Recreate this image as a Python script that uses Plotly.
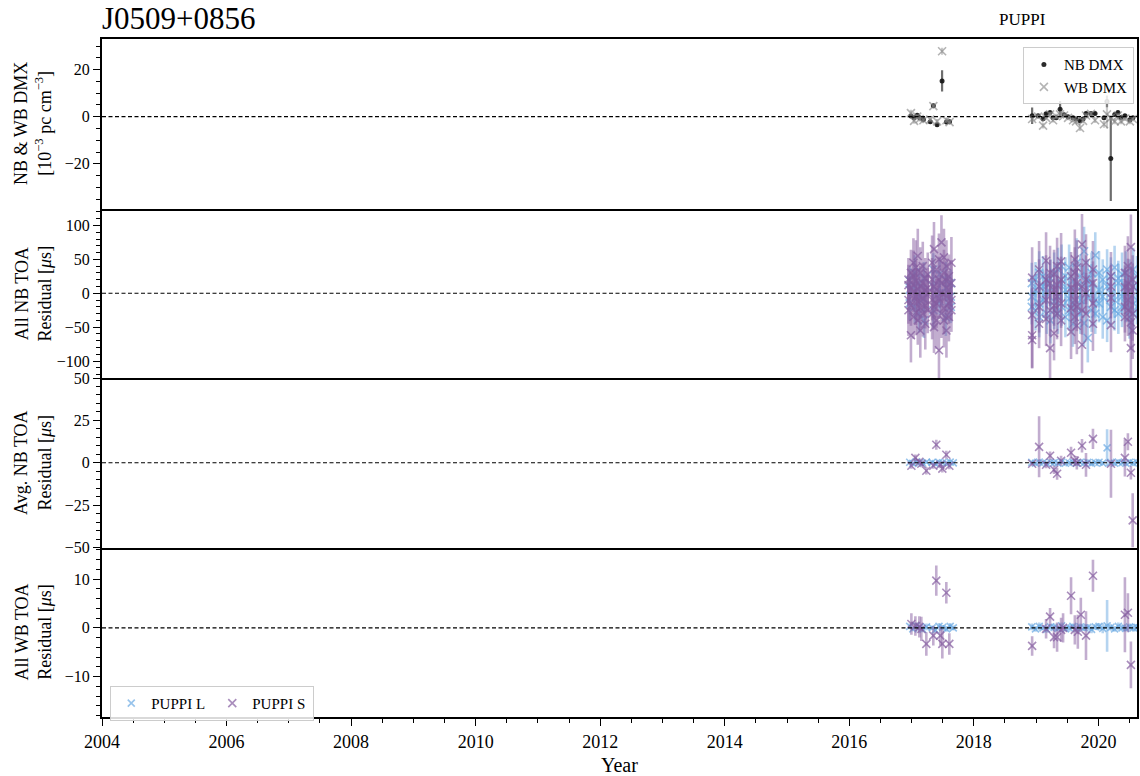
import plotly.graph_objects as go
from plotly.subplots import make_subplots

# ---------------- DMX (10^-3 pc cm^-3) ----------------
dmx_epoch = [2016.99, 2017.04, 2017.09, 2017.13, 2017.19, 2017.30, 2017.35, 2017.41, 2017.49, 2017.56, 2017.61,
             2018.936, 2019.032, 2019.112, 2019.160, 2019.224, 2019.272, 2019.321, 2019.385, 2019.449, 2019.513,
             2019.593, 2019.641, 2019.705, 2019.753, 2019.801, 2019.881, 2019.946, 2020.090, 2020.138, 2020.199,
             2020.263, 2020.314, 2020.362, 2020.426, 2020.506, 2020.554]
nb_dmx = [0.3, -0.5, 0.6, -0.4, -1.2, -2.2, 4.6, -3.4, 15.2, -2.3, -2.2,
          0.4, 0.4, -0.9, 1.2, 1.8, -0.4, -0.4, 3.2, 0.8, 0.0,
          -0.5, -1.0, -1.7, -1.0, 1.4, 1.4, 1.4, -0.5, 6.5, -17.8,
          0.9, 1.8, -0.3, 0.4, -1.3, -0.5]
nb_dmx_err = [0.8, 0.8, 0.7, 0.8, 0.8, 0.8, 0.9, 0.9, 4.5, 0.9, 0.9,
              3.5, 0.6, 0.6, 0.7, 0.7, 0.6, 0.6, 3.5, 0.7, 0.6,
              0.6, 0.7, 0.8, 0.7, 0.7, 0.6, 0.7, 0.8, 2.5, 18.0,
              0.8, 0.7, 0.6, 0.7, 0.8, 0.7]
wb_dmx = [1.5, -1.8, 0.0, -1.0, -1.5, -1.2, 4.5, -2.0, 27.8, -1.5, -2.3,
          -1.0, 0.0, -3.8, -0.5, 1.0, -1.5, 0.2, 1.0, 0.5, -0.5,
          -1.5, -2.0, -4.8, -1.8, 0.5, 1.2, -1.5, -3.2, 1.0, -0.5,
          -2.0, 0.5, -2.0, -0.8, -2.0, -1.0]
wb_dmx_err = [1.5, 1.2, 1.0, 1.0, 1.0, 1.0, 1.0, 1.0, 1.5, 1.2, 1.0,
              1.5, 1.0, 1.2, 1.0, 1.0, 1.0, 1.0, 1.2, 1.0, 1.0,
              1.0, 1.2, 1.3, 1.0, 1.0, 1.0, 1.2, 1.5, 6.0, 1.2,
              1.2, 1.0, 1.2, 1.0, 1.2, 1.0]

# ---------------- All NB TOA residuals (us) ----------------
nb_l_epoch = [2016.97, 2017.05, 2017.12, 2017.20, 2017.35, 2017.45, 2017.55, 2017.63,
              2018.93, 2018.99, 2019.05, 2019.11, 2019.17, 2019.23, 2019.29, 2019.35, 2019.41, 2019.47,
              2019.53, 2019.59, 2019.65, 2019.71, 2019.77, 2019.83, 2019.89, 2019.95, 2020.01, 2020.07,
              2020.14, 2020.20, 2020.26, 2020.32, 2020.38, 2020.44, 2020.50, 2020.56, 2020.62]
nb_l_res = [[5, -15, 18], [-20, 10, 30], [15, -30, -5], [-8, 22, -40], [10, -25, 35], [-12, 28, 0],
            [20, -35, 8], [-5, 15, -20],
            [-5, 15, -20], [20, -25, 5], [-15, 30, -35], [10, -10, 25], [-30, 18, 0], [22, -40, 8],
            [-12, 30, -25], [35, -5, -30], [-20, 15, 40], [5, -35, 25], [-25, 38, -8], [18, -15, -45],
            [45, -20, 10], [-30, 25, -10], [12, -44, 62], [-66, 20, -5], [30, -25, 15], [56, -10, -30],
            [-15, 30, 5], [20, -35, -5], [-40, 10, 35], [25, -20, 0], [-10, 38, -25], [15, -30, 22],
            [-20, 28, -5], [30, -15, 10], [-25, 20, -35], [10, -30, 35], [-10, 25, -20]]
nb_l_err = [[20, 25, 22], [24, 20, 26], [22, 28, 20], [20, 24, 26], [22, 26, 24], [20, 24, 22],
            [26, 28, 20], [22, 20, 24],
            [28, 30, 26], [26, 30, 24], [28, 32, 30], [24, 26, 30], [30, 28, 24], [28, 34, 26],
            [26, 30, 28], [32, 26, 30], [28, 26, 32], [24, 30, 28], [30, 34, 26], [28, 26, 34],
            [36, 30, 26], [30, 32, 24], [28, 34, 36], [36, 30, 26], [30, 32, 28], [34, 26, 30],
            [28, 32, 26], [30, 32, 26], [32, 26, 30], [28, 30, 24], [26, 32, 30], [28, 30, 26],
            [30, 32, 26], [32, 28, 24], [28, 30, 32], [26, 30, 32], [28, 30, 26]]

nb_s_epoch = [2016.95, 2016.99, 2017.03, 2017.07, 2017.10, 2017.14, 2017.18, 2017.22, 2017.26,
              2017.33, 2017.36, 2017.40, 2017.44, 2017.48, 2017.52, 2017.56, 2017.60, 2017.64,
              2018.936, 2019.048, 2019.160, 2019.224, 2019.288, 2019.337, 2019.401, 2019.561, 2019.622,
              2019.654, 2019.737, 2019.801, 2019.913, 2020.202, 2020.426, 2020.474, 2020.522, 2020.551]
nb_s_res = [[-10, 12, -25, 20], [-62, 8, 30, -18], [25, -35, 2, 45], [-5, 18, -28, 38],
            [55, -12, 6, -40], [-22, 30, 10, -55], [15, -8, 40, -30], [-18, 22, 5, -45],
            [8, -25, 28, 0], [-30, 20, 45, -10], [65, -20, 10, -50], [-15, 35, -40, 5],
            [-84, 20, 50, -8], [15, -30, 75, 0], [53, -22, 30, -40], [-5, 40, -55, 18],
            [25, -15, 5, -35], [-10, 15, 45, -25],
            [23, -32, -62, -69], [10, -20, 35, -45], [48, -10, 20, -38], [-81, 15, -25, 30],
            [-59, 5, 28, -18], [12, -30, 40, -5], [47, -15, -40, 20], [-57, 25, 8, -22],
            [30, -35, 50, -10], [-20, 15, 38, -48], [72, -76, 10, -25], [-30, 20, 45, 0],
            [35, -15, -45, 15], [-47, 10, -7, 25], [-20, 30, 9, -35], [15, -10, 40, -25],
            [68, -81, -43, 5], [-30, 20, -55, 10]]
nb_s_err = [[35, 30, 38, 32], [40, 28, 34, 30], [38, 32, 30, 36], [42, 30, 34, 40],
            [40, 30, 28, 36], [34, 38, 30, 40], [30, 28, 36, 34], [34, 30, 28, 38],
            [30, 34, 32, 28], [38, 32, 40, 30], [40, 34, 30, 38], [36, 30, 42, 28],
            [45, 34, 38, 30], [32, 36, 40, 30], [42, 38, 34, 40], [34, 38, 40, 30],
            [32, 30, 28, 36], [30, 34, 38, 32],
            [45, 40, 48, 42], [40, 38, 42, 36], [42, 30, 36, 40], [45, 34, 38, 40],
            [40, 32, 36, 30], [34, 38, 42, 30], [42, 36, 38, 34], [40, 36, 30, 34],
            [38, 40, 44, 32], [36, 30, 40, 42], [45, 42, 34, 36], [40, 36, 42, 30],
            [42, 34, 40, 32], [40, 32, 30, 36], [38, 40, 32, 36], [36, 32, 44, 38],
            [48, 45, 40, 34], [40, 36, 42, 34]]

# ---------------- Epoch-averaged NB residuals (us) ----------------
avg_l_epoch = [2016.97, 2017.02, 2017.08, 2017.13, 2017.18, 2017.24, 2017.33, 2017.38, 2017.44,
               2017.50, 2017.56, 2017.62, 2017.67,
               2018.93, 2018.99, 2019.05, 2019.11, 2019.17, 2019.23, 2019.29, 2019.35, 2019.41,
               2019.47, 2019.53, 2019.59, 2019.65, 2019.71, 2019.77, 2019.83, 2019.89, 2019.95,
               2020.01, 2020.07, 2020.14, 2020.20, 2020.26, 2020.32, 2020.38, 2020.44, 2020.50,
               2020.56, 2020.62]
avg_l_res = [0.3, -0.4, 0.5, 0.0, -0.3, 0.4, 0.2, -0.5, 0.3, 0.0, -0.2, 0.4, -0.1,
             0.2, -0.3, 0.4, 0.0, -0.4, 0.3, 0.1, -0.2, 0.5, -0.3, 0.0, 0.4, -0.2, 0.3,
             -0.1, 0.2, -0.4, 0.1, 0.3, -0.2, 8.8, 0.2, -0.3, 0.4, 0.0, -0.2, 0.3, -0.1, 0.2]
avg_l_err = [0.9, 0.8, 1.0, 0.8, 0.9, 1.0, 0.8, 0.9, 1.0, 0.8, 0.9, 1.0, 0.8,
             1.0, 0.9, 1.1, 0.8, 1.0, 0.9, 1.2, 0.9, 1.0, 0.8, 1.1, 0.9, 1.2, 1.0,
             0.9, 1.0, 1.1, 0.9, 1.0, 1.2, 11.0, 1.0, 0.9, 1.1, 1.0, 0.9, 1.0, 1.1, 1.0]
avg_s_epoch = [2016.997, 2017.061, 2017.125, 2017.157, 2017.237, 2017.349, 2017.397, 2017.462,
               2017.494, 2017.558, 2017.606,
               2018.936, 2019.048, 2019.160, 2019.224, 2019.288, 2019.337, 2019.401, 2019.561,
               2019.622, 2019.654, 2019.737, 2019.801, 2019.913, 2020.202, 2020.426, 2020.474,
               2020.522, 2020.551]
avg_s_res = [-1.8, 2.9, 0.6, -0.6, -4.7, -1.8, 10.6, -1.2, -3.5, 4.7, -1.8,
             -0.6, 9.4, -1.2, 4.1, -4.1, -6.5, 1.2, 5.9, 1.2, 0.0, 10.0, -1.2, 14.1,
             -0.6, 2.9, 12.4, -5.9, -34.0]
avg_s_err = [1.8, 2.0, 1.8, 2.0, 2.2, 1.8, 3.0, 2.0, 2.2, 2.4, 2.0,
             1.2, 18.0, 2.0, 2.5, 2.5, 3.5, 3.0, 3.5, 3.0, 4.0, 4.0, 7.0, 6.0,
             20.0, 11.0, 5.0, 4.0, 16.0]

# ---------------- WB TOA residuals (us) ----------------
wb_l_epoch = avg_l_epoch
wb_l_res = [0.3, -0.2, 0.4, 0.1, -0.3, 0.2, 0.0, -0.4, 0.3, 0.1, -0.2, 0.3, 0.0,
            0.2, -0.2, 0.3, 0.0, -0.3, 0.2, 0.1, -0.1, 0.4, -0.2, 0.0, 0.3, -0.1, 0.2,
            0.0, 0.1, -0.3, 0.2, 0.3, -0.1, 0.4, 0.1, -0.2, 0.3, 0.0, -0.1, 0.2, 0.0, 0.1]
wb_l_err = [0.6, 0.5, 0.7, 0.5, 0.6, 0.7, 0.5, 0.6, 0.7, 0.5, 0.6, 0.7, 0.5,
            0.7, 0.6, 0.8, 0.5, 0.7, 0.6, 0.8, 0.6, 0.7, 0.5, 0.8, 0.6, 0.8, 0.7,
            0.6, 0.7, 0.8, 0.6, 0.7, 1.0, 5.3, 0.7, 0.6, 0.8, 0.7, 0.6, 0.7, 0.8, 0.7]
wb_s_epoch = [2016.997, 2017.061, 2017.125, 2017.157, 2017.237, 2017.349, 2017.397, 2017.462,
              2017.494, 2017.558, 2017.606,
              2018.936, 2019.160, 2019.224, 2019.288, 2019.337, 2019.401, 2019.433, 2019.561,
              2019.622, 2019.670, 2019.718, 2019.801, 2019.913, 2020.426, 2020.474, 2020.522]
wb_s_res = [0.8, 0.4, 0.2, -0.2, -3.3, -1.6, 9.7, -1.6, -3.3, 7.2, -3.3,
            -3.7, -0.2, 2.3, -1.9, -1.9, -0.4, 0.0, 6.6, -0.4, -0.8, 2.7, -1.6, 10.7,
            2.7, 3.1, -7.6]
wb_s_err = [2.2, 2.0, 2.2, 2.5, 2.4, 2.0, 3.1, 2.0, 3.0, 2.2, 2.2,
            2.0, 2.0, 1.8, 2.3, 3.0, 2.5, 3.0, 3.8, 3.0, 3.5, 3.5, 5.0, 3.3,
            7.7, 4.0, 4.8]


def expand(epochs, vals, errs):
    """Spread per-epoch lists of TOA residuals into flat x / y / err arrays."""
    xs, ys, es = [], [], []
    for t, v, e in zip(epochs, vals, errs):
        xs += [t] * len(v)
        ys += v
        es += e
    return xs, ys, es


BLUE = "107,169,226"
PURPLE = "133,92,160"
FONT = "Liberation Serif"

fig = make_subplots(rows=4, cols=1, shared_xaxes=True, vertical_spacing=0)

# --- DMX panel
fig.add_trace(go.Scatter(
    x=dmx_epoch, y=nb_dmx, mode="markers", name="NB DMX", legend="legend",
    marker=dict(symbol="circle", size=5, color="rgba(20,20,20,0.9)"),
    error_y=dict(type="data", array=nb_dmx_err, color="rgba(60,60,60,0.75)", thickness=2.2, width=0),
), row=1, col=1)
fig.add_trace(go.Scatter(
    x=dmx_epoch, y=wb_dmx, mode="markers", name="WB DMX", legend="legend",
    marker=dict(symbol="x-thin-open", size=8, color="rgba(130,130,130,0.6)",
                line=dict(width=1.6, color="rgba(130,130,130,0.6)")),
    error_y=dict(type="data", array=wb_dmx_err, color="rgba(150,150,150,0.5)", thickness=2.2, width=0),
), row=1, col=1)


def add_pair(row, l_data, s_data, show, l_size=8, s_size=8):
    for (xs, ys, es), name, rgb, size in ((l_data, "PUPPI L", BLUE, l_size),
                                          (s_data, "PUPPI S", PURPLE, s_size)):
        fig.add_trace(go.Scatter(
            x=xs, y=ys, mode="markers", name=name, legend="legend2", showlegend=show,
            marker=dict(symbol="x-thin-open", size=size, color=f"rgba({rgb},0.7)",
                        line=dict(width=1.6, color=f"rgba({rgb},0.7)")),
            error_y=dict(type="data", array=es, color=f"rgba({rgb},0.5)", thickness=2.6, width=0),
        ), row=row, col=1)


add_pair(2, expand(nb_l_epoch, nb_l_res, nb_l_err), expand(nb_s_epoch, nb_s_res, nb_s_err), False)
add_pair(3, (avg_l_epoch, avg_l_res, avg_l_err), (avg_s_epoch, avg_s_res, avg_s_err), False, l_size=7)
add_pair(4, (wb_l_epoch, wb_l_res, wb_l_err), (wb_s_epoch, wb_s_res, wb_s_err), True, l_size=7)

# zero reference lines
for r in range(1, 5):
    fig.add_hline(y=0, line=dict(color="black", width=1.2, dash="4px,2.5px"), row=r, col=1)

LINE_W = 2
common = dict(showgrid=False, zeroline=False, tickcolor="black", linecolor="black", linewidth=LINE_W,
              tickfont=dict(family=FONT, size=16, color="black"))

y_specs = [([-39, 33], 20, 5), ([-125, 125], 50, 10), ([-50, 50], 25, 5), ([-18.3, 16.5], 10, 2)]
for i, (rng, major, minor) in enumerate(y_specs, start=1):
    fig.update_yaxes(range=rng, dtick=major, tick0=0, ticks="outside", ticklen=7, tickwidth=1.2,
                     showline=True, mirror=True,
                     minor=dict(ticks="outside", dtick=minor, tick0=0, ticklen=4, tickwidth=1, tickcolor="black"),
                     row=i, col=1, **common)

# one horizontal rule per panel boundary: only the top panel mirrors its x line upward
for i in range(1, 5):
    bottom = i == 4
    fig.update_xaxes(range=[2004, 2020.62], dtick=2, tick0=2004, tickformat="d",
                     showline=True, mirror=(i == 1),
                     ticks="outside" if bottom else "", ticklen=7, tickwidth=1.2,
                     showticklabels=bottom,
                     minor=dict(ticks="outside" if bottom else "", dtick=0.5, tick0=2004,
                                ticklen=4, tickwidth=1, tickcolor="black"),
                     row=i, col=1, **common)
fig.update_xaxes(tickfont=dict(family=FONT, size=18, color="black"), row=4, col=1)

# y-axis labels as rotated annotations so they share one column
y_titles = ["NB &amp; WB DMX<br>[10<sup>−3</sup> pc cm<sup>−3</sup>]",
            "All NB TOA<br>Residual [<i>μ</i>s]",
            "Avg. NB TOA<br>Residual [<i>μ</i>s]",
            "All WB TOA<br>Residual [<i>μ</i>s]"]
for k, txt in enumerate(y_titles):
    fig.add_annotation(text=txt, xref="paper", yref="paper", x=-0.0665, y=0.875 - 0.25 * k,
                       xanchor="center", yanchor="middle", textangle=-90, showarrow=False,
                       font=dict(family=FONT, size=18, color="black"))

fig.add_annotation(text="J0509+0856", xref="paper", yref="paper", x=-0.002, y=1 + 21 / 678,
                   xanchor="left", yanchor="middle", showarrow=False,
                   font=dict(family=FONT, size=31, color="black"))
fig.add_annotation(text="PUPPI", xref="paper", yref="paper", x=0.889, y=1 + 19 / 678,
                   xanchor="center", yanchor="middle", showarrow=False,
                   font=dict(family=FONT, size=17, color="black"))
fig.add_annotation(text="Year", xref="paper", yref="paper", x=0.5, y=-48 / 678,
                   xanchor="center", yanchor="middle", showarrow=False,
                   font=dict(family=FONT, size=20, color="black"))

fig.update_layout(
    width=1140, height=776,
    margin=dict(l=102, r=1, t=39, b=59),
    paper_bgcolor="white", plot_bgcolor="white",
    font=dict(family=FONT, color="black"),
    legend=dict(x=0.997, y=0.988, xanchor="right", yanchor="top",
                bgcolor="rgba(255,255,255,0.85)", bordercolor="#cccccc", borderwidth=1,
                font=dict(family=FONT, size=15, color="black"), tracegroupgap=2),
    legend2=dict(x=0.008, y=0.046, xanchor="left", yanchor="top", orientation="h",
                 xref="paper", yref="paper", entrywidth=56, entrywidthmode="pixels",
                 bgcolor="rgba(255,255,255,0.85)", bordercolor="#cccccc", borderwidth=1,
                 font=dict(family=FONT, size=15, color="black")),
)

fig.write_html("out.html")
